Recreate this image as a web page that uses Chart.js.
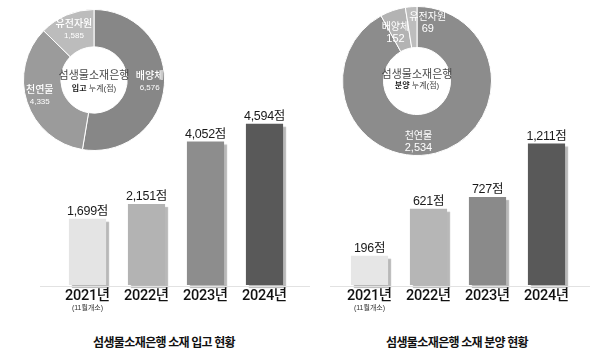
<!DOCTYPE html>
<html>
<head>
<meta charset="utf-8">
<script src="https://cdn.jsdelivr.net/npm/chart.js@4/dist/chart.umd.min.js"></script>
<style>
  html, body { margin:0; padding:0; background:#fff; }
  #wrap { position:relative; width:600px; height:354px; overflow:hidden; background:#fff;
          font-family:'Liberation Sans','Noto Sans CJK KR',sans-serif; }
  .box { position:absolute; }
  .title { position:absolute; top:333px; width:240px; text-align:center; font-size:12px; font-weight:bold;
           color:#111; letter-spacing:-0.6px; font-family:'Noto Sans CJK KR',sans-serif; }
</style>
</head>
<body>
<div id="wrap">
  <div class="box" style="left:40px;top:100px;width:270px;height:230px;"><canvas id="barL"></canvas></div>
  <div class="box" style="left:330px;top:100px;width:260px;height:230px;"><canvas id="barR"></canvas></div>
  <div class="box" style="left:4px;top:0px;width:180px;height:160px;"><canvas id="pieL"></canvas></div>
  <div class="box" style="left:327px;top:0px;width:180px;height:165px;"><canvas id="pieR"></canvas></div>
  <div class="title" id="titleL" style="left:44px;"></div>
  <div class="title" id="titleR" style="left:337px;"></div>
</div>
<script>
// ---- data ----
const years = ['2021년', '2022년', '2023년', '2024년'];
const yearNotes = ['(11월개소)', '', '', ''];
const unit = '점';
const stockValues = [1699, 2151, 4052, 4594];
const distValues = [196, 621, 727, 1211];
const stockPieLabels = ['배양체', '천연물', '유전자원'];
const stockPieValues = [6576, 4335, 1585];
const distPieLabels = ['천연물', '배양체', '유전자원'];
const distPieValues = [2534, 152, 69];
const centerTitle = '섬생물소재은행';
const centerSubL = ['입고', ' 누계(점)'];
const centerSubR = ['분양', ' 누계(점)'];
const chartTitles = ['섬생물소재은행 소재 입고 현황', '섬생물소재은행 소재 분양 현황'];

document.getElementById('titleL').textContent = chartTitles[0];
document.getElementById('titleR').textContent = chartTitles[1];

const FONT = "'Liberation Sans','Noto Sans CJK KR',sans-serif";
const TICKFONT = "Roboto,'Noto Sans CJK KR',sans-serif";
const fmt = v => v.toLocaleString('en-US');

// ---- bar plugins ----
const barDeco = {
  id: 'barDeco',
  beforeDatasetsDraw(chart) {
    const ctx = chart.ctx;
    ctx.save();
    ctx.shadowColor = 'rgba(0,0,0,0.28)';
    ctx.shadowOffsetX = 3;
    ctx.shadowOffsetY = 3;
    ctx.shadowBlur = 1;
  },
  afterDatasetsDraw(chart) {
    const ctx = chart.ctx;
    ctx.restore();
    const meta = chart.getDatasetMeta(0);
    const data = chart.data.datasets[0].data;
    const xs = chart.scales.x;
    const bottom = chart.chartArea.bottom;
    ctx.save();
    // baseline
    ctx.strokeStyle = '#e2e2e2';
    ctx.lineWidth = 1;
    ctx.beginPath();
    const y = Math.round(bottom) + 1.5;
    ctx.moveTo(0, y);
    ctx.lineTo(chart.width, y);
    ctx.stroke();
    // value labels
    ctx.fillStyle = '#1a1a1a';
    ctx.font = '12.5px ' + FONT;
    if ('letterSpacing' in ctx) ctx.letterSpacing = '-0.3px';
    ctx.textAlign = 'center';
    ctx.textBaseline = 'alphabetic';
    meta.data.forEach((bar, i) => {
      ctx.fillText(fmt(data[i]) + unit, bar.x, bar.y - 4);
    });
    // category labels (from the x scale)
    ctx.fillStyle = '#111';
    ctx.font = '500 14.5px ' + TICKFONT;
    ctx.textBaseline = 'middle';
    chart.data.labels.forEach((lab, i) => {
      ctx.fillText(lab, xs.getPixelForValue(i), bottom + 11);
    });
    if ('letterSpacing' in ctx) ctx.letterSpacing = '0px';
    // notes under category labels
    ctx.font = '7px ' + FONT;
    ctx.fillStyle = '#333';
    yearNotes.forEach((n, i) => {
      if (n) ctx.fillText(n, xs.getPixelForValue(i), bottom + 23);
    });
    ctx.restore();
  }
};

function barChart(id, values, colors, min, max, pad) {
  return new Chart(document.getElementById(id), {
    type: 'bar',
    data: {
      labels: years,
      datasets: [{
        data: values,
        backgroundColor: colors,
        base: min,
        clip: false,
        categoryPercentage: 1,
        barPercentage: 0.63
      }]
    },
    options: {
      responsive: true,
      maintainAspectRatio: false,
      animation: false,
      layout: { padding: pad },
      plugins: { legend: { display: false }, tooltip: { enabled: false } },
      scales: {
        x: { display: false },
        y: { display: false, min: min, max: max }
      }
    },
    plugins: [barDeco]
  });
}

barChart('barL', stockValues, ['#e4e4e4', '#b3b3b3', '#8d8d8d', '#595959'], -320, 5012,
  { left: 18, right: 16, top: 10, bottom: 45 });
barChart('barR', distValues, ['#e6e6e6', '#b6b6b6', '#8a8a8a', '#595959'], -70, 1515,
  { left: 10, right: 14, top: 10, bottom: 45 });

// ---- doughnut plugins ----
const pieDeco = {
  id: 'pieDeco',
  afterDatasetsDraw(chart, args, opts) {
    const ctx = chart.ctx;
    const meta = chart.getDatasetMeta(0);
    const data = chart.data.datasets[0].data;
    const labels = chart.data.labels;
    ctx.save();
    ctx.textAlign = 'center';
    ctx.textBaseline = 'middle';
    ctx.fillStyle = '#fff';
    meta.data.forEach((arc, i) => {
      const p = arc.tooltipPosition();
      const off = opts.offsets[i];
      const cx = p.x + off[0], cy = p.y + off[1];
      ctx.font = opts.nameFont;
      ctx.fillText(labels[i], cx, cy - opts.gap);
      ctx.font = opts.numFont;
      ctx.fillText(fmt(data[i]), cx, cy + opts.gap);
    });
    // center text
    const a = meta.data[0];
    const x = a.x, y = a.y;
    ctx.fillStyle = '#4a4a4a';
    ctx.font = '11px ' + FONT;
    ctx.fillText(centerTitle, x, y + opts.cTop);
    const sub = opts.sub;
    ctx.font = 'bold 8px ' + FONT;
    const w1 = ctx.measureText(sub[0]).width;
    ctx.font = '8px ' + FONT;
    const w2 = ctx.measureText(sub[1]).width;
    const sx = x - (w1 + w2) / 2;
    ctx.textAlign = 'left';
    ctx.fillStyle = '#222';
    ctx.font = 'bold 8px ' + FONT;
    ctx.fillText(sub[0], sx, y + opts.cBot);
    ctx.fillStyle = '#444';
    ctx.font = '8px ' + FONT;
    ctx.fillText(sub[1], sx + w1, y + opts.cBot);
    ctx.restore();
  }
};

function pieChart(id, labels, values, colors, cutout, pad, deco) {
  return new Chart(document.getElementById(id), {
    type: 'doughnut',
    data: {
      labels: labels,
      datasets: [{ data: values, backgroundColor: colors, borderColor: '#ffffff', borderWidth: 1 }]
    },
    options: {
      responsive: true,
      maintainAspectRatio: false,
      animation: false,
      cutout: cutout,
      layout: { padding: pad },
      plugins: { legend: { display: false }, tooltip: { enabled: false }, pieDeco: deco }
    },
    plugins: [pieDeco]
  });
}

pieChart('pieL', stockPieLabels, stockPieValues, ['#878787', '#9b9b9b', '#bcbcbc'], '47%',
  { left: 19, right: 19, top: 7, bottom: 7 },
  { offsets: [[4, -2], [-5, 0], [0, -2]], nameFont: '500 10px ' + FONT, numFont: '8px ' + FONT, gap: 6,
    sub: centerSubL, cTop: -4, cBot: 9 });
pieChart('pieR', distPieLabels, distPieValues, ['#8c8c8c', '#b3b3b3', '#bdbdbd'], '45%',
  { left: 15, right: 15, top: 6, bottom: 9 },
  { offsets: [[-12, 9], [-4, 3], [15, -4]], nameFont: '10px ' + FONT, numFont: '11px ' + FONT, gap: 6,
    sub: centerSubR, cTop: -6, cBot: 5 });
</script>
</body>
</html>
